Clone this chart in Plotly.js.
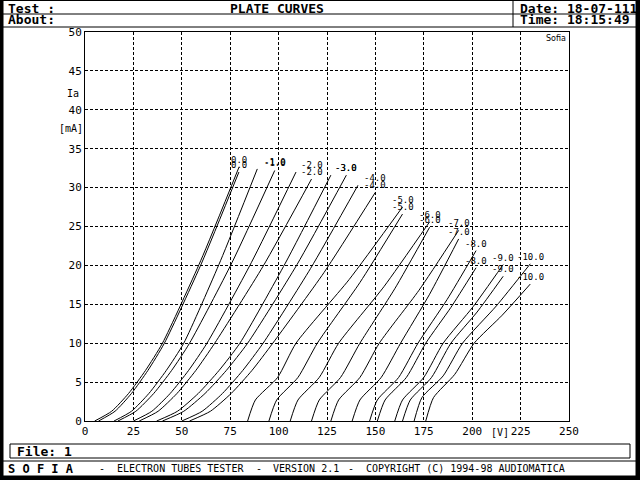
<!DOCTYPE html>
<html><head><meta charset="utf-8">
<script src="https://cdn.plot.ly/plotly-3.0.1.min.js"></script>
<style>html,body{margin:0;padding:0;background:#fff;}#chart{width:640px;height:480px;}</style>
</head><body><div id="chart"></div>
<script>
// grid-voltage labels
const gridLabels = ["0.0","-1.0","-2.0","-3.0","-4.0","-5.0","-6.0","-7.0","-8.0","-9.0","-10.0"];
// anode voltage [V] / anode current [mA], section A and B per grid step
const va0a=[5,13.75,22.5,31.25,40,59.75,79.5];      const ia0a=[0,1.25,3.54,6.5,10,20.6,32.6];
const va0b=[7,15.5,24,32.5,41,60.25,79.5];          const ia0b=[0,1.25,3.54,6.5,10,20.3,32.0];
const va1a=[15,24,33,42,51,70,89];                  const ia1a=[0,1.25,3.54,6.5,10,20.6,32.4];
const va1b=[17,26.25,35.5,44.75,54,76,98];          const ia1b=[0,1.25,3.54,6.5,10,20.4,32.2];
const va2a=[25,34.5,44,53.5,63,86,109];             const ia2a=[0,1.25,3.54,6.5,10,20.4,32.0];
const va2b=[28,37.75,47.5,57.25,67,92,117];         const ia2b=[0,1.25,3.54,6.5,10,19.9,31.1];
const va3a=[37,47.75,58.5,69.25,80,103.5,127];      const ia3a=[0,1.25,3.54,6.5,10,20.3,31.6];
const va3b=[40,51,62,73,84,109.5,135];              const ia3b=[0,1.25,3.54,6.5,10,20.1,31.6];
const va4a=[50,60.5,71,81.5,92,116.5,141];          const ia4a=[0,1.25,3.54,6.5,10,19.6,30.3];
const va4b=[54,64.75,75.5,86.25,97,123.5,150];      const ia4b=[0,1.25,3.54,6.5,10,19.1,29.4];
const va5a=[84,88,99.5,109,136.5,164];              const ia5a=[0,2.7,5.6,10,18.2,27.5];
const va5b=[95,99,110,120,142,164];                 const ia5b=[0,2.7,5.6,10,17.8,26.6];
const va6a=[106,110,121,131,154.5,178];             const ia6a=[0,2.7,5.6,10,17.3,25.6];
const va6b=[117,121,132,142,160,178];               const ia6b=[0,2.7,5.6,10,17.0,24.9];
const va7a=[127,131,142,152,172.5,193];             const ia7a=[0,2.7,5.6,10,16.8,24.5];
const va7b=[138,142,153,163,178,193];               const ia7b=[0,2.7,5.6,10,16.3,23.4];
const va8a=[147,151,162,172,187,202];               const ia8a=[0,2.7,5.6,10,15.6,21.9];
const va8b=[151,155,166,176,189,202];               const ia8b=[0,2.7,5.6,10,14.6,19.7];
const va9a=[160,164,175,185,200.5,216];             const ia9a=[0,2.7,5.6,10,14.7,20.1];
const va9b=[164,168,179,189,202.5,216];             const ia9b=[0,2.7,5.6,10,14.0,18.6];
const va10a=[170,174,185,195,212.5,230];            const ia10a=[0,3.0,5.8,10,14.8,20.2];
const va10b=[176,180,191,201,215.5,230];            const ia10b=[0,3.0,6.0,10,13.6,17.6];

const xTicks=[0,25,50,75,100,125,150,175,200,225,250];
const yTicks=[0,5,10,15,20,25,30,35,40,45,50];

const sections=[
 [va0a,ia0a,va0b,ia0b],[va1a,ia1a,va1b,ia1b],[va2a,ia2a,va2b,ia2b],[va3a,ia3a,va3b,ia3b],
 [va4a,ia4a,va4b,ia4b],[va5a,ia5a,va5b,ia5b],[va6a,ia6a,va6b,ia6b],[va7a,ia7a,va7b,ia7b],
 [va8a,ia8a,va8b,ia8b],[va9a,ia9a,va9b,ia9b],[va10a,ia10a,va10b,ia10b]];

const traces=[]; const ann=[];
const MONO="DejaVu Sans Mono, Liberation Mono, monospace";
sections.forEach((s,i)=>{
  // label column = last anode voltage of the step's sweep
  const xEnd=Math.max(s[0][s[0].length-1], s[2][s[2].length-1]);
  for(let j=0;j<2;j++){
    const x=s[2*j], y=s[2*j+1];
    traces.push({x:x,y:y,type:'scatter',mode:'lines',line:{color:'#000',width:1,shape:'spline',smoothing:0.6},hoverinfo:'skip',showlegend:false});
    ann.push({x:xEnd,y:y[y.length-1],xref:'x',yref:'y',text:gridLabels[i],showarrow:false,
      xanchor:'center',yanchor:'bottom',yshift:0,font:{family:MONO,size:9,color:'#000'}});
  }
});

// helpers for page-level pixel placement (plot area: x 85..569, y 32..421)
const px=x=>(x-85)/484, py=y=>(421-y)/389;
function txt(x,y,t,opt){opt=opt||{};return {xref:'paper',yref:'paper',x:px(x),y:py(y),text:t,showarrow:false,
  xanchor:opt.xa||'left',yanchor:'middle',font:{family:opt.fam||MONO,size:opt.size||13,color:'#000'}};}
ann.push(txt(6,8,"<b>Test :</b>"));
ann.push(txt(6,20,"<b>About:</b>"));
ann.push(txt(277,8,"<b>PLATE CURVES</b>",{xa:'center'}));
ann.push(txt(518,8,"<b>Date: 18-07-111</b>"));
ann.push(txt(518,20,"<b>Time: 18:15:49</b>"));
ann.push(txt(15,451,"<b>File: 1</b>"));
ann.push(txt(6,469,"<b>S O F I A</b>",{size:12}));
ann.push(txt(97,469,"-",{size:10}));
ann.push(txt(115,469,"ELECTRON TUBES TESTER",{size:10}));
ann.push(txt(254,469,"-",{size:10}));
ann.push(txt(271,469,"VERSION 2.1",{size:10}));
ann.push(txt(346,469,"-",{size:10}));
ann.push(txt(364,469,"COPYRIGHT (C) 1994-98 AUDIOMATICA",{size:10}));
ann.push(txt(73,93,"Ia",{size:10,xa:'center'}));
ann.push(txt(71,128,"[mA]",{size:10,xa:'center'}));
ann.push(txt(500,432,"[V]",{size:10,xa:'center'}));
ann.push(txt(556,38,"Sofia",{size:8,xa:'center',fam:"DejaVu Sans, sans-serif"}));

function rect(x0,y0,x1,y1,w,fill){return {type:'rect',xref:'paper',yref:'paper',x0:px(x0),x1:px(x1),y0:py(y0),y1:py(y1),
  line:{color:'#000',width:w||1},fillcolor:fill||'rgba(0,0,0,0)',layer:'above'};}
function ln(x0,y0,x1,y1,w){return {type:'line',xref:'paper',yref:'paper',x0:px(x0),x1:px(x1),y0:py(y0),y1:py(y1),line:{color:'#000',width:w||1},layer:'above'};}
const shapes=[
  rect(0,0,3,480,0,'#000'), rect(636,0,640,480,0,'#000'), rect(0,476,640,480,0,'#000'),
  ln(0,0.5,640,0.5,1), ln(3,14,636,14,1), ln(3,27,636,27,1), ln(513,0,513,27,1),
  rect(10,444,630,458,1), ln(3,461,636,461,1)
];

const axisCommon={showgrid:true,gridcolor:'#000',gridwidth:1,griddash:'3px,2px',zeroline:false,showline:true,mirror:true,
  linecolor:'#000',linewidth:1,ticks:'',tickfont:{family:MONO,size:11,color:'#000'},fixedrange:true};
const layout={width:640,height:480,margin:{l:85,r:71,t:32,b:59},paper_bgcolor:'#fff',plot_bgcolor:'#fff',showlegend:false,
  xaxis:Object.assign({},axisCommon,{range:[0,250],tickvals:xTicks,ticktext:xTicks.map(String)}),
  yaxis:Object.assign({},axisCommon,{range:[0,50],tickvals:yTicks,ticktext:yTicks.map(String)}),
  annotations:ann,shapes:shapes};
Plotly.newPlot('chart',traces,layout,{displayModeBar:false,staticPlot:true});
</script></body></html>
